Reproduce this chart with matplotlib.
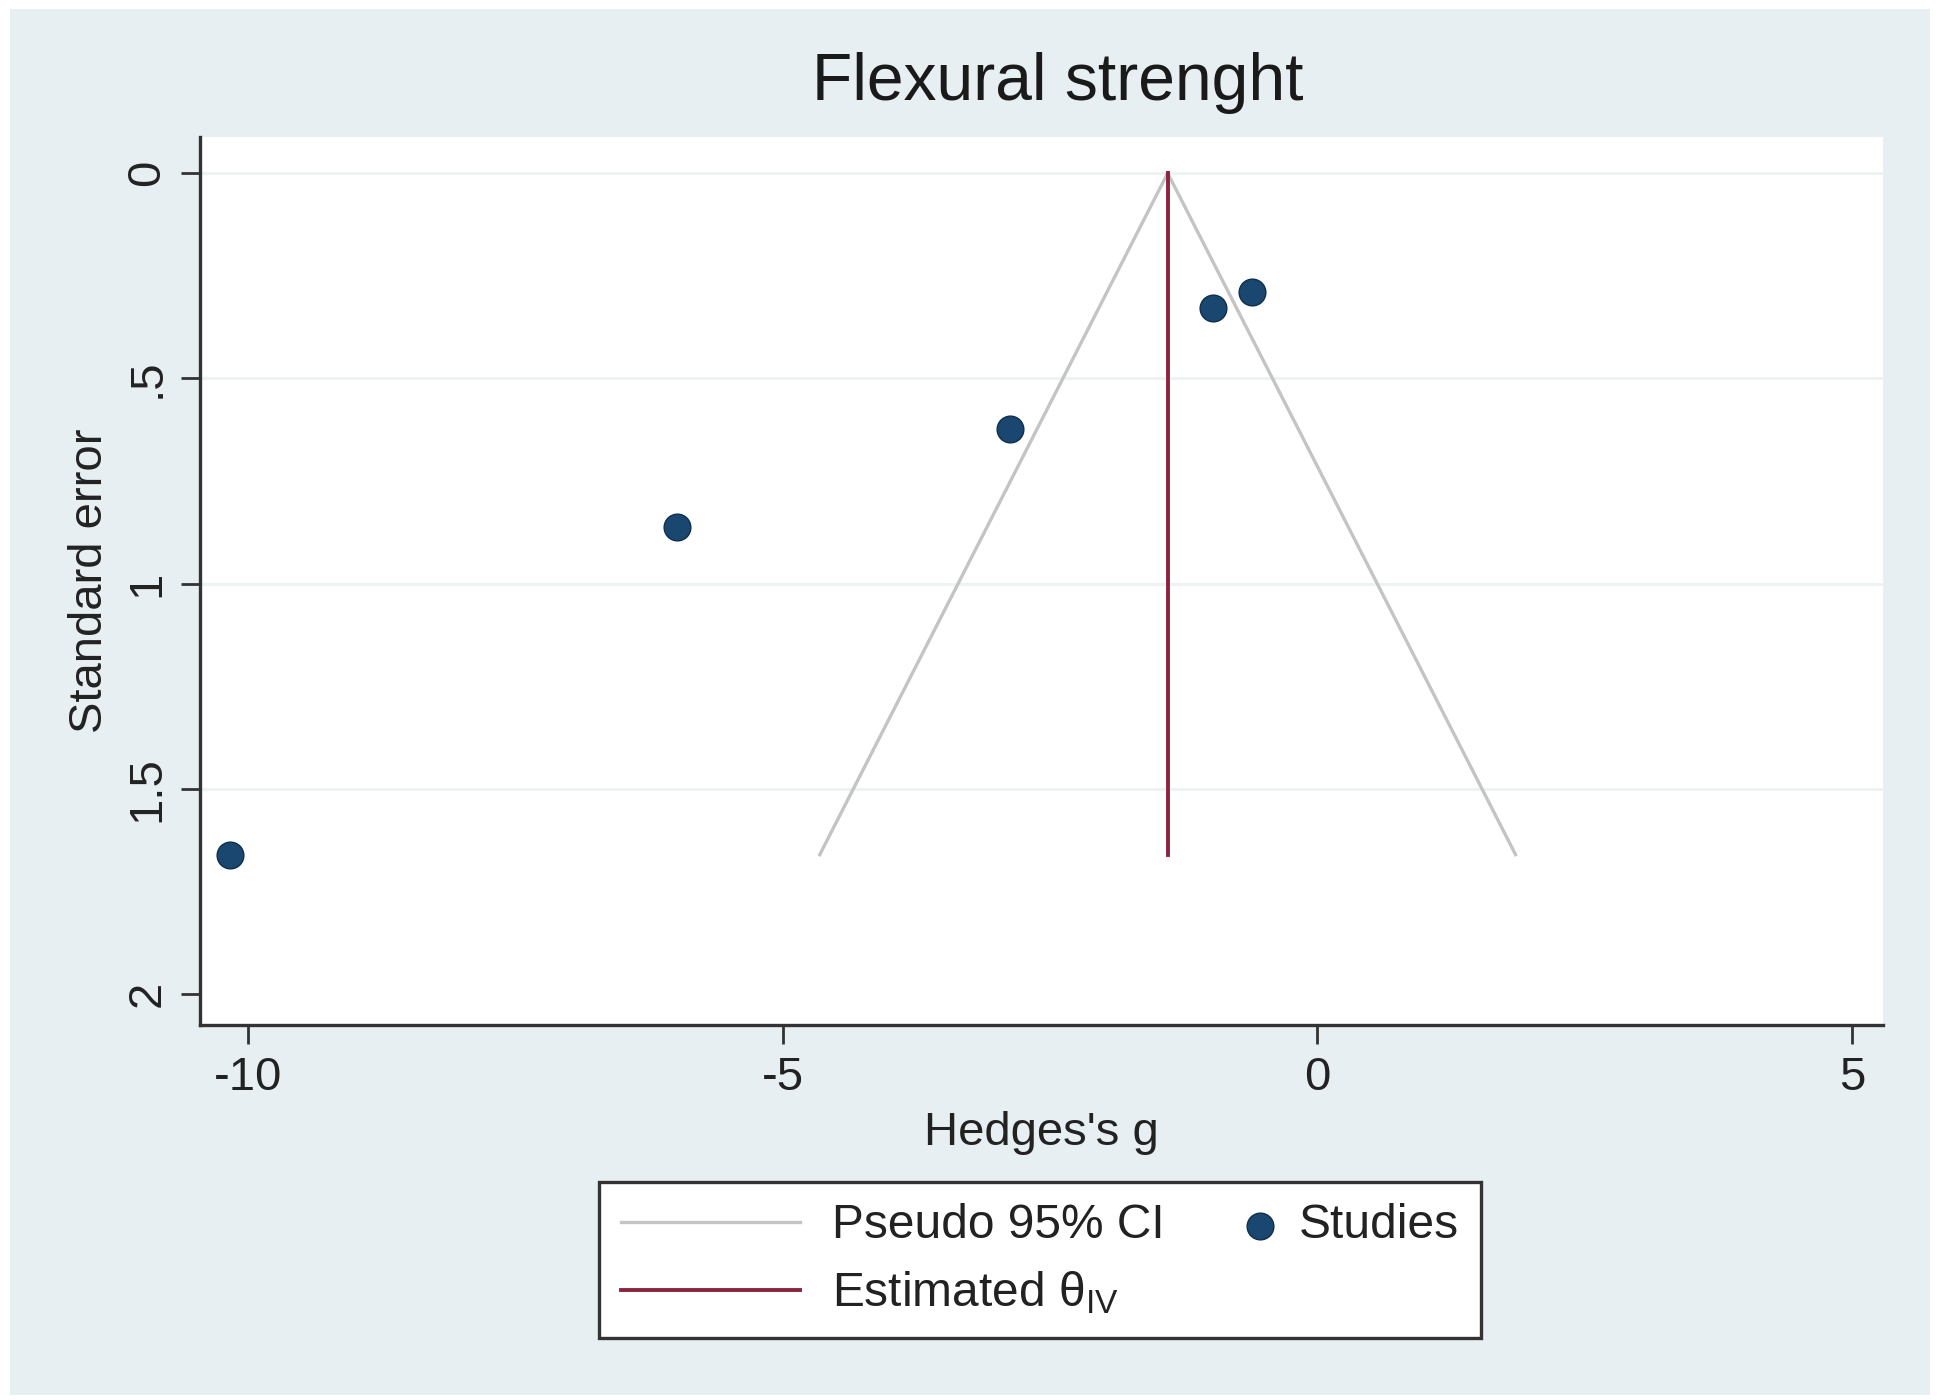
import matplotlib
matplotlib.use('Agg')
import matplotlib.pyplot as plt
from matplotlib.patches import Rectangle
from matplotlib.legend_handler import HandlerPathCollection
import numpy as np

plt.rcParams['font.family'] = ['Liberation Sans', 'DejaVu Sans']
plt.rcParams['mathtext.fontset'] = 'custom'
plt.rcParams['mathtext.rm'] = 'Liberation Sans'

# study effects (Hedges's g) and standard errors
hedges_g = [-10.17, -5.99, -2.87, -0.98, -0.61]
std_err = [1.66, 0.862, 0.624, 0.329, 0.289]
theta_iv = -1.40
se_max = 1.66

xticks = [-10, -5, 0, 5]
yticks = [0, 0.5, 1, 1.5, 2]
ytick_labels = ['0', '.5', '1', '1.5', '2']

bg = '#e8eff2'
navy = '#1a476f'
maroon = '#8c2440'
ci_grey = '#c4c4c4'
txt = '#222222'


class MarkerRight(HandlerPathCollection):
    # put the single marker at the right end of the handle box, next to its text
    def get_xdata(self, legend, xdescent, ydescent, width, height, fontsize):
        x = [-xdescent + width - 0.15 * fontsize]
        return x, x


fig = plt.figure(figsize=(19.39, 14), dpi=100, facecolor='white')
fig.patches.append(Rectangle((10 / 1939, 1 - 1395 / 1400), 1920 / 1939, 1386 / 1400,
                             transform=fig.transFigure, facecolor=bg, edgecolor='none', zorder=-10))

ax = fig.add_axes([200 / 1939, 1 - 1025 / 1400, 1683 / 1939, 888 / 1400])
ax.set_facecolor('white')

# pseudo 95% CI funnel
se_line = np.array([0, se_max])
ax.plot(theta_iv - 1.96 * se_line, se_line, color=ci_grey, lw=2.4, label='Pseudo 95% CI', zorder=2)
ax.plot(theta_iv + 1.96 * se_line, se_line, color=ci_grey, lw=2.4, zorder=2)
ax.plot([theta_iv, theta_iv], [0, se_max], color=maroon, lw=2.8,
        label=r'Estimated θ$_{\mathrm{IV}}$', zorder=3)
sc = ax.scatter(hedges_g, std_err, s=370, color=navy, edgecolor='#0f2f4d', lw=1, label='Studies', zorder=4)

ax.set_xlim(-10.45, 5.29)
ax.set_ylim(2.075, -0.088)
ax.set_xticks(xticks)
ax.set_xticklabels(['-10', '-5', '0', '5'])
ax.set_yticks(yticks)
ax.set_yticklabels(ytick_labels, rotation=90, va='center')
for y in yticks[:-1]:
    ax.axhline(y, color='#edf2f3', lw=2.2, zorder=0)

for side in ['top', 'right']:
    ax.spines[side].set_visible(False)
for side in ['left', 'bottom']:
    ax.spines[side].set_color('#333333')
    ax.spines[side].set_linewidth(2.4)
ax.tick_params(axis='both', length=14, width=2, color='#333333', labelsize=34,
               labelcolor=txt, pad=8)

ax.set_xlabel("Hedges's g", fontsize=34, color=txt, labelpad=8)
ax.set_ylabel('Standard error', fontsize=34, color=txt, labelpad=10)
fig.text(1058 / 1939, 1 - 83 / 1400, 'Flexural strenght', fontsize=47.5, color='#1a1a1a',
         ha='center', va='center')

h, l = ax.get_legend_handles_labels()
leg = fig.legend(h, l, ncol=2, loc='center', bbox_to_anchor=(1040 / 1939, 1 - 1260 / 1400),
                 fontsize=34.5, frameon=True, fancybox=False, handlelength=3.75,
                 columnspacing=-1.6, handletextpad=0.66, labelspacing=0.45, borderpad=0.45,
                 framealpha=1, handler_map={sc: MarkerRight()})
leg.get_frame().set_facecolor('white')
leg.get_frame().set_edgecolor('#333333')
leg.get_frame().set_linewidth(2.4)
for t in leg.get_texts():
    t.set_color(txt)

fig.savefig('out.png', dpi=100, facecolor=fig.get_facecolor())
